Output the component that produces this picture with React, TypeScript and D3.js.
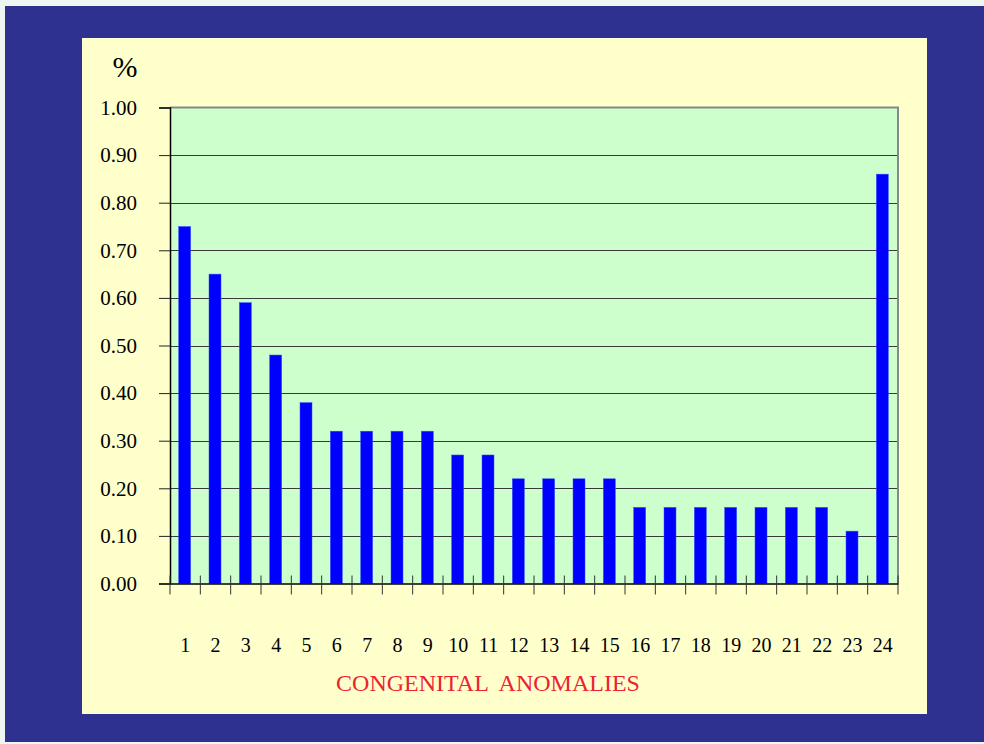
import React, { useEffect, useRef } from "react";
import * as d3 from "d3";

const categories = ["1","2","3","4","5","6","7","8","9","10","11","12","13","14","15","16","17","18","19","20","21","22","23","24"];
const values = [0.75, 0.65, 0.59, 0.48, 0.38, 0.32, 0.32, 0.32, 0.32, 0.27, 0.27, 0.22, 0.22, 0.22, 0.22, 0.16, 0.16, 0.16, 0.16, 0.16, 0.16, 0.16, 0.11, 0.86];
const yTicks = [0, 0.1, 0.2, 0.3, 0.4, 0.5, 0.6, 0.7, 0.8, 0.9, 1.0];
const xTitle = "CONGENITAL  ANOMALIES";

export default function App() {
  const ref = useRef<SVGSVGElement>(null);

  useEffect(() => {
    const svg = d3.select(ref.current);
    svg.selectAll("*").remove();
    const W = 984, H = 744;
    const plot = { left: 170, top: 107.5, right: 898, bottom: 583.5 };
    const serif = "'Liberation Serif', 'Times New Roman', serif";

    svg.append("rect").attr("width", W).attr("height", H).attr("fill", "#eef6f2");
    svg.append("rect").attr("x", 5).attr("y", 6).attr("width", W - 5).attr("height", 736).attr("fill", "#2e3190");
    svg.append("rect").attr("x", 82).attr("y", 38).attr("width", 845).attr("height", 676).attr("fill", "#ffffcc");

    const x = d3.scaleBand().domain(categories).range([plot.left, plot.right]);
    const y = d3.scaleLinear().domain([0, 1]).range([plot.bottom, plot.top]);

    svg.append("rect")
      .attr("x", plot.left).attr("y", plot.top)
      .attr("width", plot.right - plot.left).attr("height", plot.bottom - plot.top)
      .attr("fill", "#ccffcc");

    // gridlines
    svg.append("g").selectAll("line").data(yTicks.filter(t => t > 0 && t < 1)).join("line")
      .attr("x1", plot.left).attr("x2", plot.right)
      .attr("y1", d => Math.round(y(d)) + 0.5).attr("y2", d => Math.round(y(d)) + 0.5)
      .attr("stroke", "#3a3a3a").attr("stroke-width", 1);

    // top & right frame
    svg.append("path")
      .attr("d", `M${plot.left},${plot.top}H${plot.right}V${plot.bottom}`)
      .attr("fill", "none").attr("stroke", "#888888").attr("stroke-width", 2);

    // bars
    const bw = 12;
    svg.append("g").selectAll("rect").data(values).join("rect")
      .attr("x", (d, i) => x(categories[i])! + x.bandwidth() / 2 - bw / 2 - 0.5)
      .attr("y", d => y(d))
      .attr("width", bw)
      .attr("height", d => plot.bottom - y(d))
      .attr("fill", "#0000ff")
      .attr("stroke", "#3355ff").attr("stroke-width", 0.5);

    // y axis
    const yAxis = svg.append("g").attr("transform", `translate(${plot.left},0)`)
      .call(d3.axisLeft(y).tickValues(yTicks).tickFormat(d3.format(".2f")).tickSize(11).tickPadding(22));
    yAxis.select(".domain").attr("stroke", "#000").attr("stroke-width", 1.5);
    yAxis.selectAll(".tick line").attr("stroke", "#222");
    yAxis.selectAll("text")
      .attr("font-family", serif)
      .attr("font-size", 21).attr("fill", "#000");

    // x axis
    const xAxis = svg.append("g").attr("transform", `translate(0,${plot.bottom})`)
      .call(d3.axisBottom(x).tickSize(0).tickPadding(54));
    xAxis.select(".domain").attr("stroke", "#000").attr("stroke-width", 1.5);
    xAxis.selectAll("text")
      .attr("font-family", serif)
      .attr("font-size", 20).attr("fill", "#000");

    // ticks at band boundaries
    const bounds = d3.range(categories.length + 1).map(i => plot.left + i * x.step());
    svg.append("g").selectAll("line").data(bounds).join("line")
      .attr("x1", d => d).attr("x2", d => d)
      .attr("y1", plot.bottom - 8).attr("y2", plot.bottom + 11)
      .attr("stroke", "#333").attr("stroke-width", 1);

    svg.append("text")
      .attr("x", 125).attr("y", 77)
      .attr("text-anchor", "middle")
      .attr("font-family", serif)
      .attr("font-size", 30).attr("fill", "#000")
      .text("%");

    svg.append("text")
      .attr("x", 488).attr("y", 691)
      .attr("text-anchor", "middle")
      .attr("xml:space", "preserve")
      .style("white-space", "pre")
      .attr("font-family", serif)
      .attr("font-size", 24).attr("fill", "#ee2233")
      .text(xTitle);
  }, []);

  return (
    <svg ref={ref} width={984} height={744}
      style={{ position: "absolute", left: 0, top: 0, display: "block" }} />
  );
}
